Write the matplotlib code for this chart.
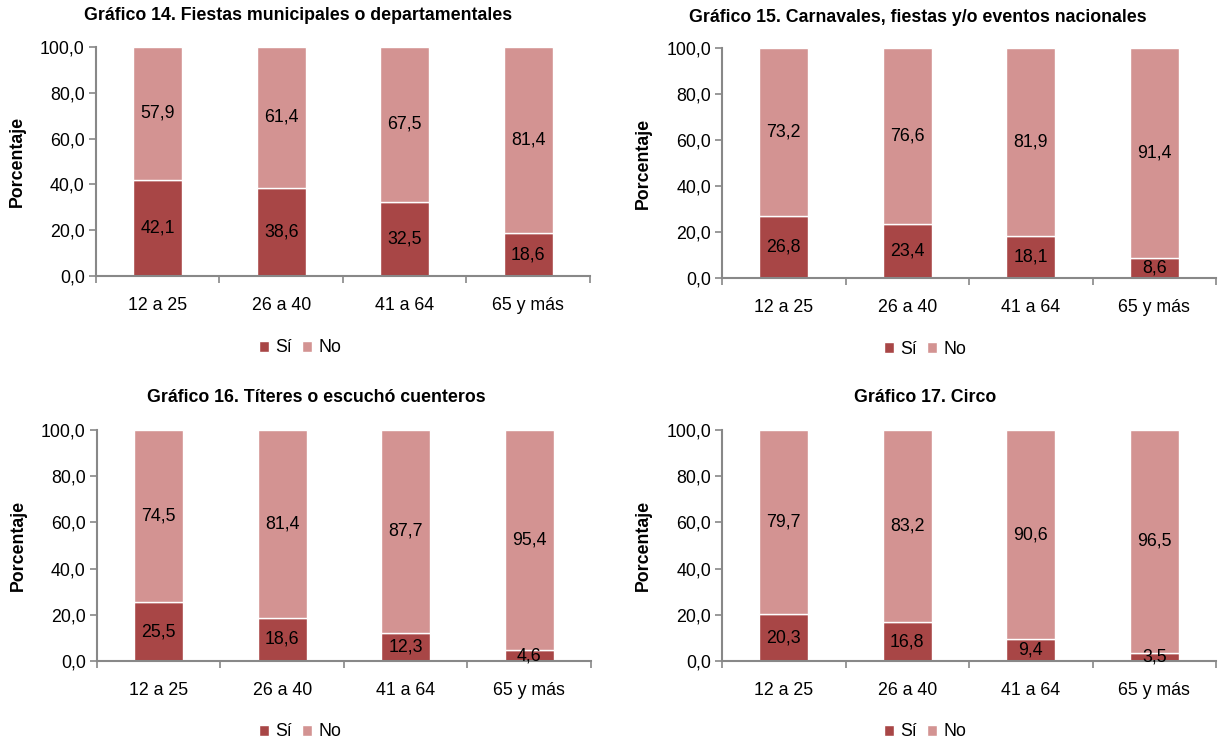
from matplotlib import pyplot as plt
import numpy as np

plt.rcParams['font.family'] = ['Liberation Sans', 'DejaVu Sans']

# data
groups = ['12 a 25', '26 a 40', '41 a 64', '65 y más']
titles = ['Gráfico 14. Fiestas municipales o departamentales',
          'Gráfico 15. Carnavales, fiestas y/o eventos nacionales',
          'Gráfico 16. Títeres o escuchó cuenteros',
          'Gráfico 17. Circo']
si_14 = [42.1, 38.6, 32.5, 18.6]
no_14 = [57.9, 61.4, 67.5, 81.4]
si_15 = [26.8, 23.4, 18.1, 8.6]
no_15 = [73.2, 76.6, 81.9, 91.4]
si_16 = [25.5, 18.6, 12.3, 4.6]
no_16 = [74.5, 81.4, 87.7, 95.4]
si_17 = [20.3, 16.8, 9.4, 3.5]
no_17 = [79.7, 83.2, 90.6, 96.5]

c_si = '#a84646'
c_no = '#d39392'
gray = '#888888'
fs = 12.8

def fmt(v):
    return '{0:.1f}'.format(v).replace('.', ',')

def plot_panel(fig, rect, title, title_xy, si, no, legend_xy):
    ax = fig.add_axes(rect)
    x = np.arange(len(groups))
    b1 = ax.bar(x, si, 0.4, color=c_si, edgecolor='white', linewidth=1, label='Sí')
    b2 = ax.bar(x, no, 0.4, bottom=si, color=c_no, edgecolor='white', linewidth=1, label='No')
    for xi, s, n in zip(x, si, no):
        ax.text(xi, s / 2, fmt(s), ha='center', va='center', fontsize=fs)
        ax.text(xi, s + n / 2, fmt(n), ha='center', va='center', fontsize=fs)
    ax.set_xlim(-0.5, 3.5)
    ax.set_ylim(0, 100)
    ax.set_yticks(np.arange(0, 101, 20))
    ax.set_yticklabels([fmt(v) for v in np.arange(0, 101, 20)], fontsize=fs)
    ax.set_xticks(x)
    ax.set_xticklabels(groups, fontsize=fs)
    ax.set_xticks(np.arange(-0.5, 4, 1), minor=True)
    ax.tick_params(axis='x', which='major', length=0, pad=15)
    ax.tick_params(axis='x', which='minor', length=5, color=gray, width=1.2)
    ax.tick_params(axis='y', length=5, color=gray, width=1.2, pad=3)
    for s in ['top', 'right']:
        ax.spines[s].set_visible(False)
    for s in ['left', 'bottom']:
        ax.spines[s].set_color(gray)
        ax.spines[s].set_linewidth(1.5)
    ax.set_ylabel('Porcentaje', fontsize=fs, fontweight='bold', labelpad=10)
    fig.text(title_xy[0] / 1218, 1 - title_xy[1] / 744, title, ha='center',
             va='center', fontsize=fs, fontweight='bold')
    fig.legend(handles=[b1, b2], loc='center',
               bbox_to_anchor=(legend_xy[0] / 1218, 1 - legend_xy[1] / 744),
               ncol=2, frameon=False, fontsize=fs, handlelength=0.55,
               handleheight=0.55, handletextpad=0.35, columnspacing=0.6)
    return ax

fig = plt.figure(figsize=(12.18, 7.44), dpi=100)
plot_panel(fig, [0.0788, 0.629, 0.4056, 0.3078], titles[0], (298, 15),
           si_14, no_14, (300, 348))
plot_panel(fig, [0.5928, 0.6263, 0.4056, 0.3092], titles[1], (918, 17),
           si_15, no_15, (925, 349))
plot_panel(fig, [0.0796, 0.1116, 0.4056, 0.3105], titles[2], (316, 398),
           si_16, no_16, (300, 732))
plot_panel(fig, [0.5928, 0.1116, 0.4056, 0.3105], titles[3], (925, 398),
           si_17, no_17, (925, 732))

fig.savefig('out.png', dpi=100)
